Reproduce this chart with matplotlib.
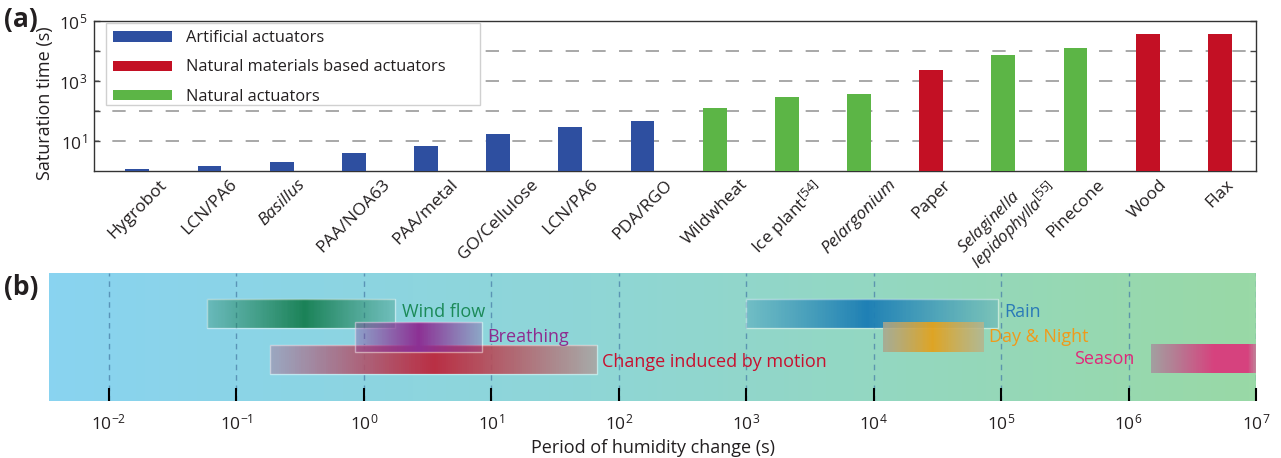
import numpy as np
import matplotlib
matplotlib.use("Agg")
import matplotlib.pyplot as plt
from matplotlib.colors import to_rgba, ListedColormap
from matplotlib.patches import Patch, Rectangle
import matplotlib.transforms as mtransforms

plt.rcParams['font.family'] = ['Open Sans', 'DejaVu Sans']
plt.rcParams['mathtext.fontset'] = 'custom'
plt.rcParams['mathtext.rm'] = 'Open Sans'
plt.rcParams['mathtext.it'] = 'Open Sans:italic'
plt.rcParams['mathtext.bf'] = 'Open Sans:bold'

TEXT = '#231f20'

# ---------------- panel (a) data ----------------
actuators = ['Hygrobot', 'LCN/PA6', 'Basillus', 'PAA/NOA63', 'PAA/metal',
             'GO/Cellulose', 'LCN/PA6', 'PDA/RGO', 'Wildwheat',
             'Ice plant$^{[54]}$', 'Pelargonium', 'Paper',
             '$\\mathit{Selaginella}$\n$\\mathit{lepidophylla}^{[55]}$',
             'Pinecone', 'Wood', 'Flax']
italic_labels = [2, 10]
saturation_time = [1.17, 1.47, 2.0, 4.0, 6.8, 17, 29, 46, 126, 293, 369,
                   2330, 7360, 12600, 36800, 36800]
group = ['art', 'art', 'art', 'art', 'art', 'art', 'art', 'art', 'nat',
         'nat', 'nat', 'mat', 'nat', 'nat', 'mat', 'mat']
group_colors = {'art': '#2e4fa0', 'mat': '#c31024', 'nat': '#5cb546'}
group_names = {'art': 'Artificial actuators',
               'mat': 'Natural materials based actuators',
               'nat': 'Natural actuators'}

# ---------------- panel (b) data ----------------
stimuli = ['Wind flow', 'Change induced by motion', 'Breathing', 'Rain',
           'Day & Night', 'Season']
period_min = [0.059, 0.185, 0.86, 1000, 11800, 1.5e6]
period_max = [1.75, 68, 8.5, 94000, 74000, 1.0e7]
row_bottom = [0.571, 0.21, 0.385, 0.571, 0.385, 0.22]
row_top = [0.797, 0.435, 0.615, 0.797, 0.615, 0.444]
# colour stops along each band: (position, colour, alpha)
band_stops = [
    [(0.0, '#2a8a66', 0.35), (0.52, '#1b8257', 1.0), (1.0, '#2a8a66', 0.3)],
    [(0.0, '#9ca2bc', 0.9), (0.5, '#c0182f', 0.88), (1.0, '#a8a8a6', 0.95)],
    [(0.0, '#8c3a98', 0.33), (0.5, '#8c3094', 1.0), (1.0, '#8c3a98', 0.3)],
    [(0.0, '#2585b8', 0.3), (0.48, '#1f80b5', 1.0), (1.0, '#2585b8', 0.25)],
    [(0.0, '#a9a690', 0.85), (0.49, '#e3a21c', 0.95), (1.0, '#b6b48e', 0.85)],
    [(0.0, '#a39ca0', 0.95), (0.6, '#d6427e', 1.0), (0.93, '#d6427e', 1.0),
     (1.0, '#c47c98', 0.95)],
]
band_border = [True, True, True, True, False, False]
label_text = ['Wind flow', 'Breathing', 'Change induced by motion', 'Rain',
              'Day & Night', 'Season']
label_x = [1.98, 9.3, 74, 1.06e5, 8.0e4, 1.12e6]
label_y = [0.696, 0.501, 0.306, 0.696, 0.5, 0.325]
label_ha = ['left', 'left', 'left', 'left', 'left', 'right']
label_color = ['#1b8a58', '#8e2c8f', '#c8102e', '#2a7ab8', '#f09a1a',
               '#e0287a']
decades = list(range(-2, 8))

fig = plt.figure(figsize=(12.81, 4.58), dpi=100)
W, H = 1281, 458


def fig_rect(x0, y0, x1, y1):
    return [x0 / W, 1 - y1 / H, (x1 - x0) / W, (y1 - y0) / H]


# ================= panel (a) =================
ax = fig.add_axes(fig_rect(94, 21, 1256, 171))
xpos = np.arange(len(actuators))
ax.bar(xpos, saturation_time, width=0.33,
       color=[group_colors[g] for g in group], zorder=3)
ax.set_yscale('log')
ax.set_ylim(1, 1e5)
ax.set_xlim(-0.6, 15.5)
for v in [1e1, 1e2, 1e3, 1e4]:
    ax.axhline(v, color='#9a9a9a', lw=1.2, ls=(5, (8, 8)), zorder=1)
ax.set_yticks([1e1, 1e2, 1e3, 1e4, 1e5])
ax.set_yticklabels(['$10^1$', '', '$10^3$', '', '$10^5$'])
ax.yaxis.set_minor_locator(matplotlib.ticker.NullLocator())
ax.tick_params(axis='y', which='major', direction='in', length=4,
               width=1, color='#444444', left=True, right=True,
               labelsize=12.5, labelcolor=TEXT, pad=5)
ax.set_xticks(xpos)
ax.set_xticklabels(actuators)
ax.tick_params(axis='x', length=0, pad=4)
for i, lab in enumerate(ax.get_xticklabels()):
    lab.set_rotation(45)
    lab.set_ha('center')
    lab.set_va('top')
    lab.set_fontsize(12.5)
    lab.set_color(TEXT)
    if i in italic_labels:
        lab.set_fontstyle('italic')
    if i == 12:
        # two-line species name sits a little higher so it clears panel (b)
        lab.set_multialignment('left')
        lab.set_linespacing(0.9)
        lab.set_fontsize(12)
        lab.set_transform(lab.get_transform() + mtransforms.ScaledTranslation(
            5 / 100, 12 / 100, fig.dpi_scale_trans))
for s in ax.spines.values():
    s.set_color('#333333')
    s.set_linewidth(1.0)
ax.set_ylabel('Saturation time (s)', fontsize=13, color=TEXT)
ax.yaxis.set_label_coords(-0.034, 0.45)

# legend box drawn separately so its padding can be set freely
frame = Rectangle((106 / W, 1 - 105 / H), (480 - 106) / W, (105 - 23) / H,
                  transform=fig.transFigure, facecolor='white',
                  edgecolor='#d0d0d0', lw=1.0, zorder=4, clip_on=False)
ax.add_patch(frame)
handles = [Patch(facecolor=group_colors[k], edgecolor='none')
           for k in ['art', 'mat', 'nat']]
leg = ax.legend(handles, [group_names[k] for k in ['art', 'mat', 'nat']],
                loc='upper left', bbox_to_anchor=(106 / W, 1 - 23 / H),
                bbox_transform=fig.transFigure, borderaxespad=0,
                fontsize=11.8, handlelength=3.6, handleheight=0.6,
                handletextpad=0.85, borderpad=0.45, labelspacing=0.8,
                frameon=False)
for t in leg.get_texts():
    t.set_color(TEXT)
leg.set_zorder(5)

fig.text(4 / W, 1 - 19 / H, '(a)', fontsize=19, fontweight='bold',
         color=TEXT, va='center', ha='left')

# ================= panel (b) =================
bx = fig.add_axes(fig_rect(49.3, 272.7, 1256, 401))
bx.set_xscale('log')
xlo, xhi = 10 ** -2.467, 1e7
bx.set_xlim(xlo, xhi)
bx.set_ylim(0, 1)

# background gradient, blue at short periods to green at long periods
bg_cmap = ListedColormap(
    [tuple(np.interp(t, [0, 0.45, 1.0], [c0, c1, c2]) for c0, c1, c2 in zip(
        to_rgba('#89d3f0'), to_rgba('#8fd6d6'), to_rgba('#99d9a6')))
     for t in np.linspace(0, 1, 256)])
bx.imshow(np.linspace(0, 1, 256)[None, :], aspect='auto', cmap=bg_cmap,
          extent=[0, 1, 0, 1], transform=bx.transAxes, zorder=0,
          interpolation='bilinear')

for d in decades:
    bx.axvline(10.0 ** d, color='#4a7fa8', alpha=0.75, lw=1.0,
               ls=(0, (4, 3.5)), zorder=1)


def band_cmap(stops, n=256):
    pos = [s[0] for s in stops]
    cols = [to_rgba(s[1], s[2]) for s in stops]
    t = np.linspace(0, 1, n)
    rgba = np.stack([np.interp(t, pos, [c[k] for c in cols])
                     for k in range(4)], axis=1)
    return ListedColormap(rgba)


for i in range(len(stimuli)):
    edges = np.geomspace(period_min[i], period_max[i], 161)
    vals = np.linspace(0, 1, 160)[None, :]
    bx.pcolormesh(edges, [row_bottom[i], row_top[i]], vals,
                  cmap=band_cmap(band_stops[i]), vmin=0, vmax=1,
                  shading='flat', zorder=2 + i * 0.1, linewidth=0,
                  antialiased=False, rasterized=True)
    if band_border[i]:
        bx.add_patch(Rectangle((period_min[i], row_bottom[i]),
                               period_max[i] - period_min[i],
                               row_top[i] - row_bottom[i], fill=False,
                               edgecolor='white', alpha=0.45, lw=1.0,
                               zorder=2.05 + i * 0.1))

for i in range(len(label_text)):
    bx.text(label_x[i], label_y[i], label_text[i], color=label_color[i],
            fontsize=13, ha=label_ha[i], va='center', zorder=5)

bx.set_xticks([10.0 ** d for d in decades])
bx.set_xticklabels(['$10^{%d}$' % d for d in decades])
bx.xaxis.set_minor_locator(matplotlib.ticker.NullLocator())
bx.tick_params(axis='x', direction='in', length=9.5, width=1.5,
               color='black', labelsize=12.5, labelcolor=TEXT, pad=9)
bx.set_yticks([])
for s in bx.spines.values():
    s.set_visible(False)
bx.set_xlabel('Period of humidity change (s)', fontsize=13, color=TEXT,
              labelpad=4)

fig.text(4 / W, 1 - 287 / H, '(b)', fontsize=19, fontweight='bold',
         color=TEXT, va='center', ha='left')

fig.savefig('out.png', dpi=100)
